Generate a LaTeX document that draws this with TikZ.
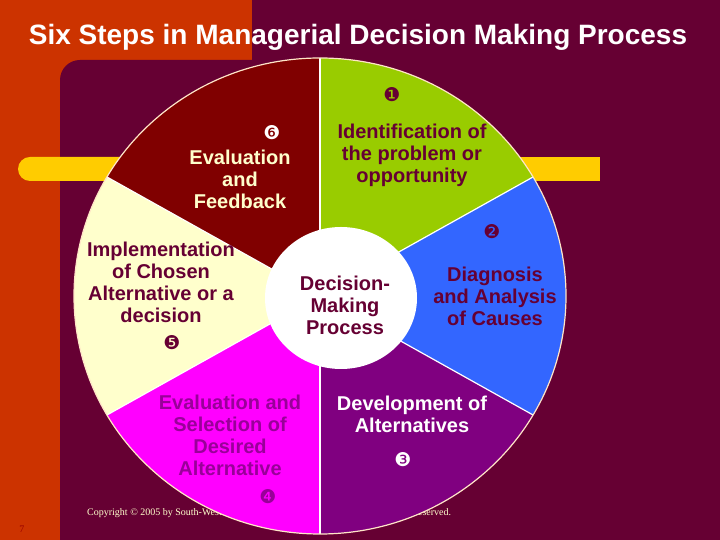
\documentclass[tikz,border=0pt]{standalone}
\usepackage{fontspec}
\setmainfont{Liberation Serif}
\newfontfamily\labelfont{Liberation Sans}
\newfontfamily\numfont{DejaVu Sans}
\usepackage{tikz}
\usepackage{xcolor}

\definecolor{bgorange}{HTML}{CC3300}
\definecolor{bgmaroon}{HTML}{660033}
\definecolor{barcol}{HTML}{FFCC00}
\definecolor{sliceone}{HTML}{99CC00}
\definecolor{slicetwo}{HTML}{3366FF}
\definecolor{slicethree}{HTML}{800080}
\definecolor{slicefour}{HTML}{FF00FF}
\definecolor{slicefive}{HTML}{FFFFCC}
\definecolor{slicesix}{HTML}{800000}
\definecolor{txtdark}{HTML}{660033}
\definecolor{txtpurple}{HTML}{990099}
\definecolor{pagenum}{HTML}{990000}

\begin{document}
\begin{tikzpicture}
	[x=1pt,y=1pt,
	steplabel/.style = {
		align=center, inner sep=0pt,
		font=\labelfont\bfseries\fontsize{20}{22}\selectfont
	},
	stepnum/.style = {
		inner sep=0pt, font=\numfont\fontsize{19}{19}\selectfont
	},
	divider/.style = {
		white, line width=1.2
	},
	rim/.style = {
		draw=slicefive!60!pink, line width=1.2
	}]
	\useasboundingbox (0,0) rectangle (720,540);
	
	%Draw background
	\fill[bgorange] (0,0) rectangle (720,540);
	\fill[bgmaroon] (252,0) rectangle (720,540);
	\fill[bgmaroon] (60,0) -- (60,460) arc[start angle=180, end angle=90, radius=20]
	-- (720,480) -- (720,0) -- cycle;
	\fill[barcol, rounded corners=12] (18,359) rectangle (200,383);
	\fill[barcol] (100,359) rectangle (600,383);
	\node[anchor=base west, inner sep=0pt, text=slicefive, font=\fontsize{10}{12}\selectfont]
	at (87,24) (copy) {Copyright © 2005 by South-Western, a division of Thomson Learning. All rights reserved.};
	\node[anchor=base, inner sep=0pt, text=pagenum, font=\fontsize{10}{12}\selectfont]
	at (22,7) (page) {7};
	
	%Draw pie
	\coordinate (hub) at (320,244);
	\foreach \a/\col in {30/sliceone, -30/slicetwo, -90/slicethree,
		-150/slicefour, 150/slicefive, 90/slicesix}
	\fill[\col] (hub) -- ++(\a:246 and 238)
	arc[start angle=\a, delta angle=60, x radius=246, y radius=238] -- cycle;
	\foreach \a in {30,-30,90,-90,150,210}
	\draw[divider] (hub) -- ++(\a:246 and 238);
	\draw[rim] (hub) ellipse[x radius=246, y radius=238];
	\coordinate (disc) at (341,242);
	\fill[white] (disc) ellipse[x radius=76, y radius=71];
	
	%Draw title
	\node[anchor=base, text=white, font=\labelfont\bfseries\fontsize{28}{32}\selectfont]
	at (358,495) (title) {Six Steps in Managerial Decision Making Process};
	
	%Draw labels
	\node[steplabel, text=txtdark] at (412,385) (step1) {Identification of\\the problem or\\opportunity};
	\node[steplabel, text=txtdark] at (495,244) (step2) {Diagnosis\\and Analysis\\of Causes};
	\node[steplabel, text=white] at (412,126) (step3) {Development of\\Alternatives};
	\node[steplabel, text=txtpurple] at (230,105) (step4) {Evaluation and\\Selection of\\Desired\\Alternative};
	\node[steplabel, text=txtdark] at (161,258) (step5) {Implementation\\of Chosen\\Alternative or a\\decision};
	\node[steplabel, text=slicefive] at (240,361) (step6) {Evaluation\\and\\Feedback};
	\node[steplabel, text=txtdark] at (345,235) (core) {Decision-\\Making\\Process};
	
	%Draw numbers
	\node[stepnum, text=txtdark] at (392,445) (n1) {❶};
	\node[stepnum, text=txtdark] at (492,308) (n2) {❷};
	\node[stepnum, text=white] at (403,80) (n3) {❸};
	\node[stepnum, text=txtpurple] at (268,43) (n4) {❹};
	\node[stepnum, text=txtdark] at (172,197) (n5) {❺};
	\node[stepnum, text=white] at (272,407) (n6) {❻};
\end{tikzpicture}
\end{document}
